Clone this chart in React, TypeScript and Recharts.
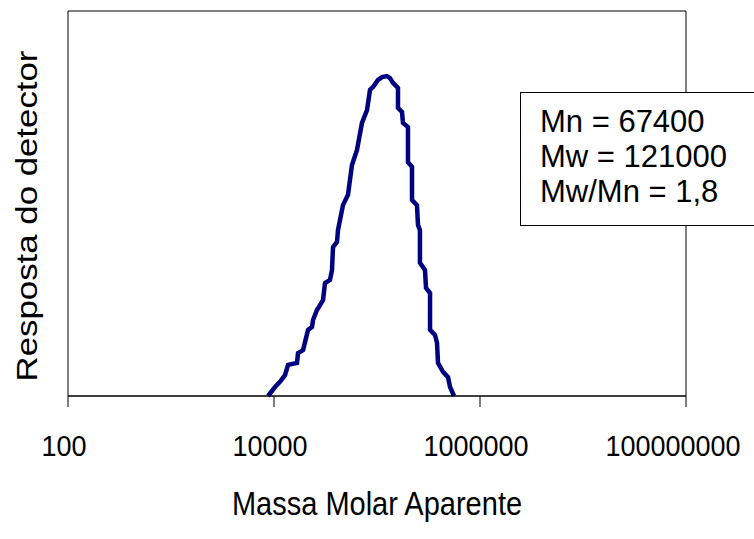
import React from "react";
import { LineChart, Line, XAxis, YAxis, ReferenceArea } from "recharts";

// molar mass (g/mol), left flank then right flank
const molarMass = [
  8750, 10230, 11430, 12790, 13680, 16720, 17100, 19140, 20010, 21400, 23390, 23930, 26140, 29920,
  31270, 34980, 36560, 37410, 40920, 41810, 46770, 52270, 57150, 63950, 71450, 79980, 85510, 91450,
  102300, 111900, 125000, 133700, 143000, 159900, 159900, 174900, 178700, 199900, 199900, 218700,
  218700, 244400, 250000, 261200, 261200, 292300, 299200, 327300, 327300, 365700, 382700, 391000,
  437500, 489000, 511800, 559600,
];

const detectorResponse = [
  0, 0.028, 0.044, 0.065, 0.097, 0.103, 0.134, 0.143, 0.168, 0.206, 0.215, 0.237, 0.268, 0.299,
  0.352, 0.362, 0.393, 0.464, 0.48, 0.517, 0.595, 0.627, 0.72, 0.767, 0.851, 0.891, 0.954, 0.963,
  0.985, 0.994, 0.997, 0.991, 0.976, 0.96, 0.898, 0.885, 0.851, 0.838, 0.729, 0.714, 0.611, 0.595,
  0.533, 0.517, 0.415, 0.393, 0.337, 0.321, 0.206, 0.19, 0.165, 0.103, 0.075, 0.059, 0.028, 0,
];

const xTicks = [100, 10000, 1000000, 100000000];
const statsLines = ["Mn = 67400", "Mw = 121000", "Mw/Mn = 1,8"];

const data = molarMass.map((m, i) => ({ m, r: detectorResponse[i] }));

const FONT = '"Liberation Sans", Arial, sans-serif';
// the original picture is a bit stretched vertically, so the text is too
const STRETCH = 1.12;

function Tick({ x, y, payload, index }: any) {
  const shift = index === xTicks.length - 1 ? -13 : -4;
  return (
    <g transform={`translate(${x + shift},${y}) scale(1,${STRETCH})`}>
      <text x={0} y={0} dy="0.71em" textAnchor="middle" fontSize={27} fill="#000" fontFamily={FONT}>
        {payload.value}
      </text>
    </g>
  );
}

export default function App() {
  return (
    <div style={{ position: "absolute", left: 0, top: 0, width: 754, height: 539, overflow: "hidden", background: "#fff", fontFamily: FONT }}>
      <LineChart width={754} height={539} data={data} margin={{ top: 11, right: 68, left: 68, bottom: 83 }}>
        <XAxis
          dataKey="m"
          type="number"
          scale="log"
          domain={[100, 100000000]}
          ticks={xTicks}
          allowDataOverflow
          height={60}
          tickSize={11}
          tickMargin={28}
          axisLine={{ stroke: "#000" }}
          tickLine={{ stroke: "#000" }}
          tick={<Tick />}
          interval={0}
        />
        <YAxis hide type="number" domain={[0, 1.2]} />
        <ReferenceArea x1={100} x2={100000000} y1={0} y2={1.2} fill="none" stroke="#000" strokeWidth={1} />
        <Line
          dataKey="r"
          type="linear"
          stroke="#000080"
          strokeWidth={4.5}
          dot={false}
          isAnimationActive={false}
        />
      </LineChart>

      <div
        style={{
          position: "absolute",
          left: 520,
          top: 92,
          width: 260,
          height: 134,
          border: "1px solid #000",
          background: "#fff",
          boxSizing: "border-box",
          paddingLeft: 19,
          paddingTop: 11,
          fontSize: 31,
          lineHeight: "35px",
          color: "#000",
          whiteSpace: "nowrap",
        }}
      >
        {statsLines.map((s) => (
          <div key={s}>{s}</div>
        ))}
      </div>

      <div
        style={{
          position: "absolute",
          left: 68,
          width: 618,
          top: 486,
          textAlign: "center",
          fontSize: 29,
          lineHeight: "34px",
          color: "#000",
          transform: "scaleY(1.15)",
        }}
      >
        Massa Molar Aparente
      </div>

      <div
        style={{
          position: "absolute",
          left: 27,
          top: 216,
          transform: "translate(-50%, -50%) rotate(-90deg) scaleX(1.2)",
          whiteSpace: "nowrap",
          fontSize: 29,
          lineHeight: "34px",
          color: "#000",
        }}
      >
        Resposta do detector
      </div>
    </div>
  );
}
